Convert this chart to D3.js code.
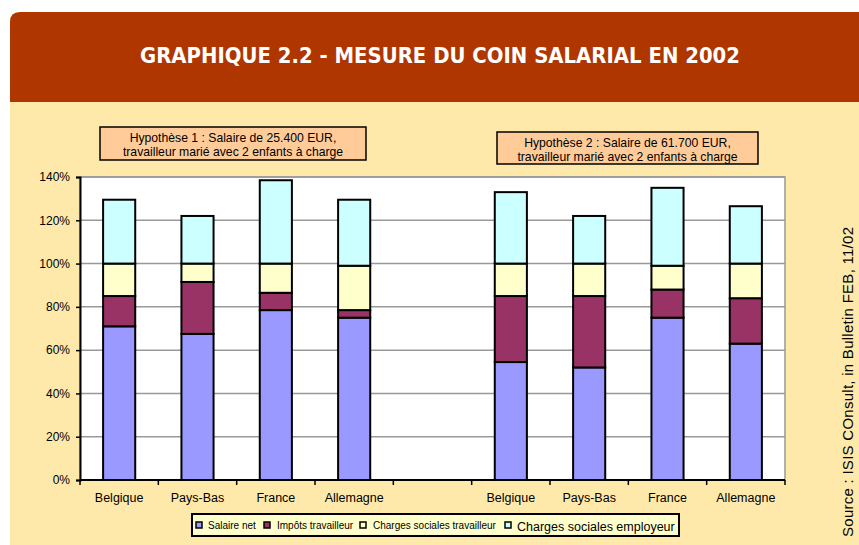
<!DOCTYPE html>
<html>
<head>
<meta charset="utf-8">
<script src="https://cdn.jsdelivr.net/npm/d3@7"></script>
<style>
  body { margin: 0; background: #fff; }
  svg { display: block; font-family: "Liberation Sans", Arial, sans-serif; }
</style>
</head>
<body>
<div id="chart"></div>
<script>
// data (% of gross salary)
const categories = ['Belgique', 'Pays-Bas', 'France', 'Allemagne', '', 'Belgique', 'Pays-Bas', 'France', 'Allemagne'];
const salaireNet = [71, 67.5, 78.5, 75, 0, 54.5, 52, 75, 63];
const impotsTravailleur = [14, 24, 8, 3.5, 0, 30.5, 33, 13, 21];
const chargesTravailleur = [15, 8.5, 13.5, 20.5, 0, 15, 15, 11, 16];
const chargesEmployeur = [29.5, 22, 38.5, 30.5, 0, 33, 22, 36, 26.5];
const seriesNames = ['Salaire net', 'Impôts travailleur', 'Charges sociales travailleur', 'Charges sociales employeur'];
const yTicks = [0, 20, 40, 60, 80, 100, 120, 140];
const hypotheses = [
  ['Hypothèse 1 : Salaire de 25.400 EUR,', 'travailleur marié avec 2 enfants à charge'],
  ['Hypothèse 2 : Salaire de 61.700 EUR,', 'travailleur marié avec 2 enfants à charge'],
];

const width = 859, height = 545;
const colors = ['#9999ff', '#993366', '#ffffcc', '#ccffff'];

const svg = d3.select('#chart').append('svg').attr('width', width).attr('height', height);

// #region background + header
svg.append('path')
  .attr('d', 'M10,545 L10,22 Q10,12 20,12 L859,12 L859,545 Z')
  .attr('fill', '#fee9ab');
svg.append('path')
  .attr('d', 'M10,102 L10,22 Q10,12 20,12 L859,12 L859,102 Z')
  .attr('fill', '#b03600');
svg.append('text')
  .text('GRAPHIQUE 2.2 - MESURE DU COIN SALARIAL EN 2002')
  .attr('x', 440).attr('y', 63)
  .attr('text-anchor', 'middle')
  .attr('textLength', 600).attr('lengthAdjust', 'spacingAndGlyphs')
  .style('font-family', '"Liberation Sans Narrow", "DejaVu Sans Condensed", sans-serif')
  .style('font-weight', 'bold').style('font-size', '22px')
  .attr('fill', '#fff');
// #endregion

// #region scales
const plot = { left: 80, right: 785, top: 177, bottom: 480 };
const x = d3.scaleBand().domain(d3.range(categories.length)).range([plot.left, plot.right]).paddingInner(0.59).paddingOuter(0.295);
const xOuter = d3.scaleBand().domain(d3.range(categories.length)).range([plot.left, plot.right]);
const y = d3.scaleLinear().domain([0, 140]).range([plot.bottom, plot.top]);
// #endregion

// #region plot area
svg.append('rect')
  .attr('x', plot.left).attr('y', plot.top)
  .attr('width', plot.right - plot.left).attr('height', plot.bottom - plot.top)
  .attr('fill', '#fff').attr('stroke', '#999').attr('stroke-width', 1.5);

svg.append('g').selectAll('line')
  .data(yTicks.slice(1))
  .enter().append('line')
  .attr('x1', plot.left).attr('x2', plot.right)
  .attr('y1', d => y(d)).attr('y2', d => y(d))
  .attr('stroke', '#999').attr('stroke-width', 1.5);

const yAxis = svg.append('g')
  .attr('transform', `translate(${plot.left},0)`)
  .call(d3.axisLeft(y).tickValues(yTicks).tickFormat(d => d + '%').tickSize(4).tickPadding(6));
yAxis.select('.domain').attr('stroke', '#000').attr('stroke-width', 2);
yAxis.selectAll('.tick line').attr('stroke', '#000').attr('stroke-width', 1.5);
yAxis.selectAll('text').style('font-size', '12px').attr('fill', '#000');
// #endregion

// #region bars
const rows = categories.map((c, i) => ({
  i,
  net: salaireNet[i],
  imp: impotsTravailleur[i],
  ct: chargesTravailleur[i],
  ce: chargesEmployeur[i],
}));
const stack = d3.stack().keys(['net', 'imp', 'ct', 'ce']);
const layers = stack(rows);

svg.append('g').selectAll('g')
  .data(layers)
  .enter().append('g')
  .attr('fill', (d, k) => colors[k])
  .selectAll('rect')
  .data(d => d.filter(p => p[1] > p[0]))
  .enter().append('rect')
  .attr('x', d => x(d.data.i))
  .attr('width', x.bandwidth())
  .attr('y', d => y(d[1]))
  .attr('height', d => y(d[0]) - y(d[1]))
  .attr('stroke', '#000').attr('stroke-width', 2);
// #endregion

// #region x axis
svg.append('line')
  .attr('x1', plot.left).attr('x2', plot.right)
  .attr('y1', plot.bottom).attr('y2', plot.bottom)
  .attr('stroke', '#000').attr('stroke-width', 2);
svg.append('g').selectAll('line')
  .data(d3.range(categories.length + 1))
  .enter().append('line')
  .attr('x1', d => plot.left + d * xOuter.step()).attr('x2', d => plot.left + d * xOuter.step())
  .attr('y1', plot.bottom).attr('y2', plot.bottom + 5)
  .attr('stroke', '#000').attr('stroke-width', 1.5);
svg.append('g').selectAll('text')
  .data(categories)
  .enter().append('text')
  .text(d => d)
  .attr('x', (d, i) => xOuter(i) + xOuter.bandwidth() / 2)
  .attr('y', 502)
  .attr('text-anchor', 'middle')
  .style('font-size', '12.5px');
// #endregion

// #region hypothesis boxes
const boxes = [
  { x: 100, y: 127, w: 266, h: 33 },
  { x: 497, y: 132, w: 261, h: 32 },
];
boxes.forEach((b, k) => {
  svg.append('rect')
    .attr('x', b.x).attr('y', b.y).attr('width', b.w).attr('height', b.h)
    .attr('fill', '#ffcc99').attr('stroke', '#000').attr('stroke-width', 1.5);
  svg.append('text')
    .attr('text-anchor', 'middle')
    .style('font-size', '12.2px')
    .selectAll('tspan')
    .data(hypotheses[k])
    .enter().append('tspan')
    .attr('x', b.x + b.w / 2)
    .attr('y', (d, j) => b.y + 14.5 + j * 14.5)
    .text(d => d);
});
// #endregion

// #region legend
svg.append('rect')
  .attr('x', 192).attr('y', 514).attr('width', 487).attr('height', 22)
  .attr('fill', '#ffffcc').attr('stroke', '#000').attr('stroke-width', 2);
const legendItems = [
  { sx: 193, tx: 208, size: 10 },
  { sx: 261, tx: 277, size: 10 },
  { sx: 357, tx: 373, size: 10 },
  { sx: 502, tx: 517, size: 12.5 },
];
legendItems.forEach((it, k) => {
  svg.append('rect')
    .attr('x', it.sx + 3).attr('y', 522).attr('width', 6).attr('height', 6)
    .attr('fill', colors[k]).attr('stroke', '#000').attr('stroke-width', 1.5);
  svg.append('text')
    .text(seriesNames[k])
    .attr('x', it.tx).attr('y', 529 + (it.size > 11 ? 2 : 0))
    .style('font-size', it.size + 'px');
});
// #endregion

// #region source
svg.append('text')
  .text('Source :  ISIS COnsult, in Bulletin FEB, 11/02')
  .attr('transform', 'translate(853, 382) rotate(-90)')
  .attr('text-anchor', 'middle')
  .attr('textLength', 310).attr('lengthAdjust', 'spacing')
  .style('font-size', '15px');
// #endregion
</script>
</body>
</html>
